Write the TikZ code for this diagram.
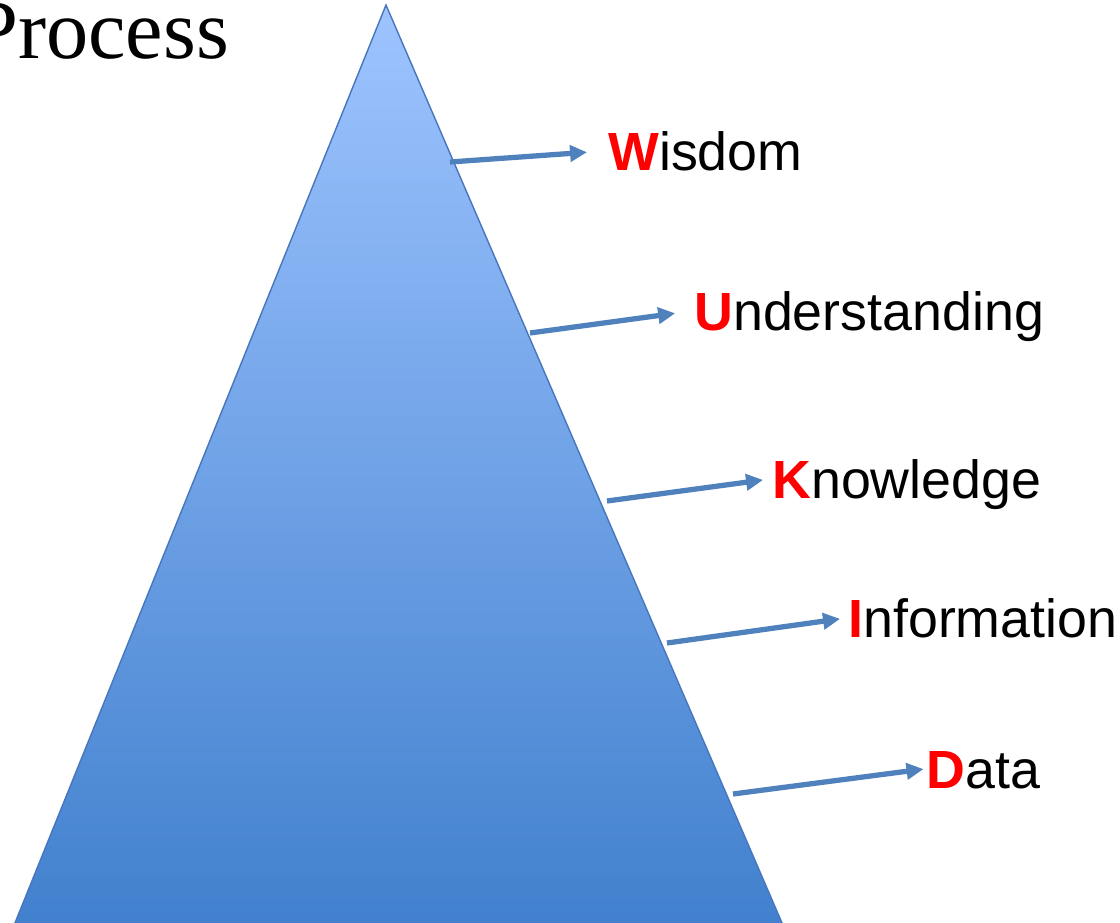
\documentclass[tikz,border=0pt]{standalone}
\usepackage{fontspec}
\setmainfont{Liberation Serif}
\setsansfont{Liberation Sans}
\usetikzlibrary{arrows.meta}

\definecolor{pyrtop}{RGB}{158,196,255}
\definecolor{pyrbottom}{RGB}{62,126,204}
\definecolor{pyredge}{RGB}{72,118,188}
\definecolor{arrowblue}{RGB}{79,129,189}

% first letter bold and red, the rest plain
\newcommand{\initial}[2]{{\bfseries\color{red}#1}#2}

\begin{document}
\begin{tikzpicture}[x=0.02cm,y=-0.02cm,
                    level/.style={anchor=base west,inner sep=0pt,text depth=0pt,text height=0.77cm,
                                  font=\sffamily\fontsize{30.6}{36}\selectfont},
                    pointer/.style={draw=arrowblue,line width=3pt,
                                    -{Triangle[length=0.34cm,width=0.32cm]}}]

  \useasboundingbox (0,0) rectangle (1120,923);
  \clip (0,0) rectangle (1120,923);

  % the pyramid, running off the bottom edge
  \draw[pyredge,line width=0.8pt,top color=pyrtop,bottom color=pyrbottom]
    (386,5) -- (798,960) -- (0,960) -- cycle;

  \node[anchor=base west,inner sep=0pt,font=\fontsize{48}{56}\selectfont] (title) at (-29,58) {Process};

  % levels, top to bottom
  \node[level] (wisdom) at (608,170) {\initial{W}{isdom}};
  \node[level] (understanding) at (694,330) {\initial{U}{nderstanding}};
  \node[level] (knowledge) at (772,498) {\initial{K}{nowledge}};
  \node[level] (information) at (848,637) {\initial{I}{nformation}};
  \node[level] (data) at (926,788) {\initial{D}{ata}};

  \coordinate (w0) at (450,162);
  \coordinate (u0) at (530,333);
  \coordinate (k0) at (607,501);
  \coordinate (i0) at (667,643);
  \coordinate (d0) at (733,794);

  \draw[pointer,shorten >=0.42cm] (w0) -- (wisdom.west);
  \draw[pointer,shorten >=0.38cm] (u0) -- (understanding.west);
  \draw[pointer,shorten >=0.18cm] (k0) -- (knowledge.west);
  \draw[pointer,shorten >=0.16cm] (i0) -- (information.west);
  \draw[pointer,shorten >=0.05cm] (d0) -- (data.west);
\end{tikzpicture}
\end{document}
